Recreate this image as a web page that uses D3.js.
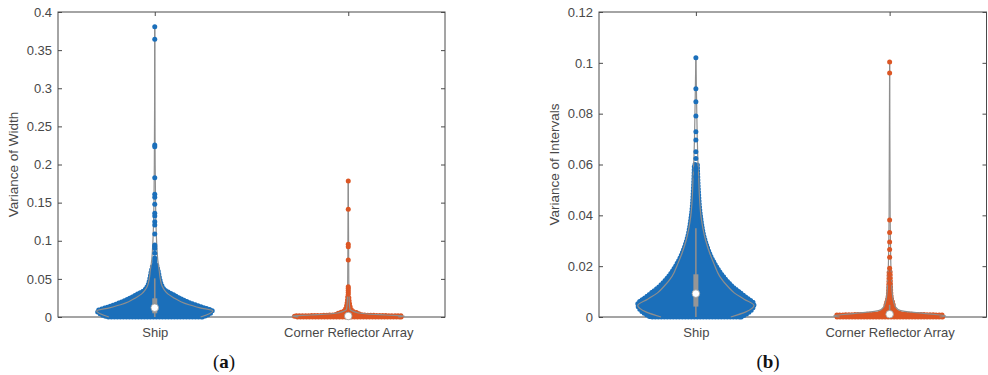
<!DOCTYPE html>
<html>
<head>
<meta charset="utf-8">
<script src="https://cdn.jsdelivr.net/npm/d3@7"></script>
<style>
  body { margin: 0; background: #fff; }
  svg { display: block; }
  text { font-family: Arial, "Liberation Sans", Helvetica, sans-serif; }
  text.caption { font-family: "Liberation Serif", "DejaVu Serif", serif; }
</style>
</head>
<body>
<svg id="chart" width="988" height="375"></svg>
<script>
// ---- data -------------------------------------------------------------
const categories = ["Ship", "Corner Reflector Array"];
const seriesColors = ["#1b6fba", "#dc5624"];

// (a) variance of width
const widthTicks = [0, 0.05, 0.1, 0.15, 0.2, 0.25, 0.3, 0.35, 0.4];
const widthTickLabels = ["0", "0.05", "0.1", "0.15", "0.2", "0.25", "0.3", "0.35", "0.4"];
// kernel density outline: [value, relative density]
const shipWidthKde = [[0,0.79],[0.004,0.93],[0.008,1.0],[0.012,0.78],[0.016,0.59],[0.02,0.45],[0.025,0.33],[0.03,0.23],[0.035,0.17],[0.04,0.13],[0.05,0.095],[0.06,0.078],[0.075,0.052],[0.09,0.038],[0.11,0.026],[0.15,0.014],[0.2,0.007],[0.381,0]];
// spread of the jittered samples: [value, relative half-width]
const shipWidthSpread = [[0,0.82],[0.004,0.94],[0.008,0.99],[0.012,0.85],[0.016,0.70],[0.02,0.56],[0.025,0.42],[0.03,0.30],[0.035,0.18],[0.04,0.13],[0.05,0.086],[0.06,0.06],[0.068,0.034]];
const shipWidthSparse = [0.3807,0.3642,0.2256,0.2234,0.1827,0.161,0.157,0.148,0.136,0.1325,0.125,0.1207,0.109,0.0944,0.0925,0.09,0.0835,0.0775,0.0748,0.0725,0.0704];
const shipWidthStats = { q1: 0.0049, median: 0.0122, q3: 0.0245, lo: 0, hi: 0.0507 };

const cornerWidthKde = [[0,0.86],[0.0013,0.97],[0.0026,0.65],[0.0039,0.33],[0.0055,0.17],[0.007,0.1],[0.01,0.03],[0.02,0.017],[0.05,0.009],[0.179,0]];
const cornerWidthSpread = [[0,0.91],[0.0014,0.93],[0.002,0.52],[0.003,0.24],[0.0056,0.155],[0.008,0.069],[0.0114,0.043],[0.018,0.021],[0.027,0.009]];
const cornerWidthSparse = [0.1784,0.1412,0.0953,0.0922,0.0748,0.0398,0.0376,0.0352,0.0325,0.03];
const cornerWidthStats = { q1: 0.0005, median: 0.0013, q3: 0.0027, lo: 0, hi: 0.0062 };

// (b) variance of intervals
const intervalTicks = [0, 0.02, 0.04, 0.06, 0.08, 0.1, 0.12];
const intervalTickLabels = ["0", "0.02", "0.04", "0.06", "0.08", "0.1", "0.12"];
const shipIntervalKde = [[0,0.6],[0.002,0.86],[0.0045,1.0],[0.007,0.83],[0.0095,0.66],[0.012,0.55],[0.016,0.41],[0.021,0.31],[0.025,0.24],[0.03,0.17],[0.035,0.12],[0.04,0.086],[0.048,0.06],[0.055,0.048],[0.062,0.034],[0.07,0.024],[0.08,0.016],[0.09,0.009],[0.102,0]];
const shipIntervalSpread = [[0,0.78],[0.002,0.92],[0.005,1.0],[0.008,0.85],[0.012,0.63],[0.016,0.47],[0.022,0.30],[0.03,0.16],[0.04,0.078],[0.05,0.043],[0.06,0.026]];
const shipIntervalSparse = [0.102,0.0898,0.0847,0.0791,0.0729,0.0696,0.065,0.0624,0.0585,0.0576,0.0552];
const shipIntervalStats = { q1: 0.0041, median: 0.0092, q3: 0.0168, lo: 0, hi: 0.0349 };

const cornerIntervalKde = [[0,0.86],[0.0004,0.965],[0.0015,0.56],[0.0025,0.19],[0.004,0.1],[0.007,0.06],[0.01,0.043],[0.015,0.031],[0.02,0.022],[0.03,0.014],[0.04,0.009],[0.1005,0]];
const cornerIntervalSpread = [[0,0.91],[0.0007,0.92],[0.0012,0.21],[0.003,0.078],[0.005,0.06],[0.008,0.026],[0.013,0.014],[0.018,0.009]];
const cornerIntervalSparse = [0.1003,0.096,0.0382,0.0332,0.0295,0.0266,0.0235,0.0192,0.0169,0.0152,0.0133];
const cornerIntervalStats = { q1: 0.0003, median: 0.0011, q3: 0.0021, lo: 0, hi: 0.0048 };

// ---- panel definitions ------------------------------------------------
const panels = [
  {
    left: 58, right: 445, yMax: 0.4, ticks: widthTicks, tickLabels: widthTickLabels,
    yLabel: "Variance of Width", yLabelX: 18, caption: "a", captionX: 224,
    violins: [
      { kde: shipWidthKde, spread: shipWidthSpread, sparse: shipWidthSparse, stats: shipWidthStats },
      { kde: cornerWidthKde, spread: cornerWidthSpread, sparse: cornerWidthSparse, stats: cornerWidthStats }
    ]
  },
  {
    left: 599, right: 986.5, yMax: 0.12, ticks: intervalTicks, tickLabels: intervalTickLabels,
    yLabel: "Variance of Intervals", yLabelX: 559, caption: "b", captionX: 768,
    violins: [
      { kde: shipIntervalKde, spread: shipIntervalSpread, sparse: shipIntervalSparse, stats: shipIntervalStats },
      { kde: cornerIntervalKde, spread: cornerIntervalSpread, sparse: cornerIntervalSparse, stats: cornerIntervalStats }
    ]
  }
];

const plotTop = 12, plotBottom = 317;
const axisColor = "#4a4a4a", textColor = "#484848";
const outlineColor = "#8e8e8e";
const dotR = 2.5;
const violinWidth = 0.3;
const svg = d3.select("#chart");

panels.forEach(p => {
  const g = svg.append("g");
  const x = d3.scaleLinear().domain([0.5, 2.5]).range([p.left, p.right]);
  const y = d3.scaleLinear().domain([0, p.yMax]).range([plotBottom, plotTop]);
  const half = d3.scaleLinear().domain([0, 1]).range([0, x(1 + violinWidth) - x(1)]);

  // axes (ticks point inward)
  const styleAxis = sel => {
    sel.selectAll(".domain").remove();
    sel.selectAll(".tick line").attr("stroke", axisColor);
    sel.selectAll("text").attr("fill", textColor).attr("font-size", 13);
  };
  g.append("g").attr("transform", `translate(${p.left},0)`)
    .call(d3.axisLeft(y).tickValues(p.ticks).tickFormat((d, i) => p.tickLabels[i]).tickSize(-4).tickPadding(6))
    .call(styleAxis);
  g.append("g").attr("transform", `translate(${p.right},0)`)
    .call(d3.axisRight(y).tickValues(p.ticks).tickFormat("").tickSize(-4))
    .call(styleAxis);
  g.append("g").attr("transform", `translate(0,${plotTop})`)
    .call(d3.axisTop(x).tickValues([1, 2]).tickFormat("").tickSize(-4))
    .call(styleAxis);
  g.append("g").attr("transform", `translate(0,${plotBottom})`)
    .call(d3.axisBottom(x).tickValues([1, 2]).tickFormat((d, i) => categories[i]).tickSize(-4).tickPadding(11))
    .call(styleAxis);
  g.append("rect")
    .attr("x", p.left).attr("y", plotTop)
    .attr("width", p.right - p.left).attr("height", plotBottom - plotTop)
    .attr("fill", "none").attr("stroke", axisColor).attr("stroke-width", 1);

  // axis label
  g.append("text")
    .attr("transform", `translate(${p.yLabelX},${(plotTop + plotBottom) / 2}) rotate(-90)`)
    .attr("text-anchor", "middle")
    .attr("fill", textColor).attr("font-size", 13.5)
    .text(p.yLabel);

  // violins
  p.violins.forEach((v, i) => {
    const cx = x(i + 1);
    const color = seriesColors[i];

    // dense cloud of jittered samples
    const spreadArea = d3.area()
      .curve(d3.curveMonotoneY)
      .y(d => y(d[0]))
      .x0(d => cx - half(d[1]))
      .x1(d => cx + half(d[1]));
    g.append("path").attr("d", spreadArea(v.spread))
      .attr("fill", color);
    g.append("path").attr("d", spreadArea(v.spread))
      .attr("fill", "none").attr("stroke", color)
      .attr("stroke-width", dotR * 2).attr("stroke-linecap", "round")
      .attr("stroke-linejoin", "round").attr("stroke-dasharray", "0 3");

    // kernel density outline
    const kdeArea = d3.area()
      .curve(d3.curveMonotoneY)
      .y(d => y(d[0]))
      .x0(d => cx - half(d[1]))
      .x1(d => cx + half(d[1]));
    [kdeArea.lineX0(), kdeArea.lineX1()].forEach(line => {
      g.append("path").attr("d", line(v.kde))
        .attr("fill", "none").attr("stroke", outlineColor).attr("stroke-width", 1.2);
    });

    // sparse samples on the upper tail
    g.selectAll(null).data(v.sparse).enter().append("circle")
      .attr("cx", cx).attr("cy", d => y(d)).attr("r", dotR)
      .attr("fill", color);

    // whisker, box and median
    const s = v.stats;
    g.append("line")
      .attr("x1", cx).attr("x2", cx).attr("y1", y(s.lo)).attr("y2", y(s.hi))
      .attr("stroke", outlineColor).attr("stroke-width", 1.6);
    g.append("rect")
      .attr("x", cx - 2.5).attr("width", 5)
      .attr("y", y(s.q3)).attr("height", Math.max(1, y(s.q1) - y(s.q3)))
      .attr("fill", "#969696");
    g.append("circle")
      .attr("cx", cx).attr("cy", y(s.median)).attr("r", 3.8)
      .attr("fill", "#fff").attr("stroke", "#9a9a9a").attr("stroke-width", 0.8);
  });

  // sub-figure caption
  const cap = svg.append("text")
    .attr("class", "caption")
    .attr("x", p.captionX).attr("y", 368)
    .attr("text-anchor", "middle")
    .attr("font-size", 19).attr("fill", "#111");
  cap.append("tspan").text("(");
  cap.append("tspan").attr("font-weight", "bold").text(p.caption);
  cap.append("tspan").text(")");
});
</script>
</body>
</html>
